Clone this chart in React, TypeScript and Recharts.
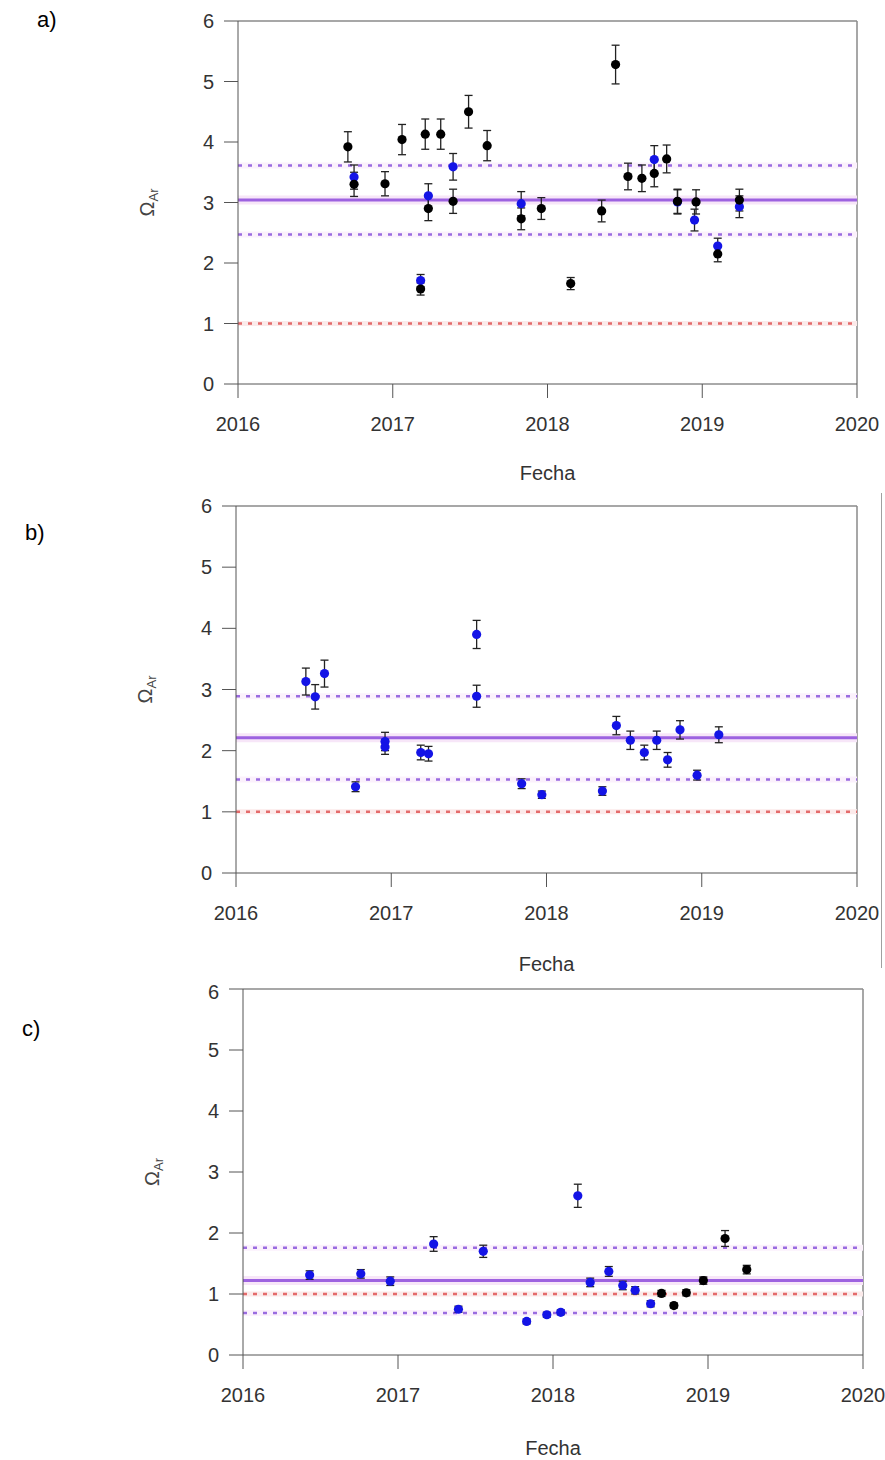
import { ScatterChart, Scatter, XAxis, YAxis, ErrorBar, ReferenceLine } from 'recharts';

// panel a) - two series (black / blue)
const aBlackDates = [2016.71, 2016.75, 2016.95, 2017.06, 2017.18, 2017.21, 2017.23, 2017.31, 2017.39, 2017.49, 2017.61, 2017.83, 2017.96, 2018.15, 2018.35, 2018.44, 2018.52, 2018.61, 2018.69, 2018.77, 2018.84, 2018.96, 2019.10, 2019.24];
const aBlackValues = [3.92, 3.30, 3.31, 4.04, 1.57, 4.13, 2.90, 4.13, 3.02, 4.50, 3.94, 2.73, 2.90, 1.66, 2.86, 5.28, 3.43, 3.40, 3.48, 3.72, 3.02, 3.01, 2.15, 3.04];
const aBlackErr = [0.25, 0.2, 0.2, 0.25, 0.1, 0.25, 0.2, 0.25, 0.2, 0.27, 0.25, 0.18, 0.18, 0.1, 0.18, 0.32, 0.22, 0.22, 0.22, 0.23, 0.2, 0.2, 0.13, 0.18];
const aBlueDates = [2016.75, 2017.18, 2017.23, 2017.39, 2017.83, 2018.69, 2018.84, 2018.95, 2019.10, 2019.24];
const aBlueValues = [3.42, 1.71, 3.11, 3.59, 2.98, 3.71, 3.01, 2.71, 2.28, 2.93];
const aBlueErr = [0.2, 0.1, 0.2, 0.22, 0.2, 0.23, 0.2, 0.18, 0.13, 0.18];
const aLines = [3.04, 3.61, 2.47]; // mean, upper, lower

// panel b) - blue only
const bBlueDates = [2016.45, 2016.51, 2016.57, 2016.77, 2016.96, 2016.96, 2017.19, 2017.24, 2017.55, 2017.55, 2017.84, 2017.97, 2018.36, 2018.45, 2018.54, 2018.63, 2018.71, 2018.78, 2018.86, 2018.97, 2019.11];
const bBlueValues = [3.13, 2.88, 3.26, 1.41, 2.15, 2.06, 1.97, 1.95, 3.90, 2.89, 1.46, 1.28, 1.34, 2.41, 2.17, 1.97, 2.17, 1.85, 2.34, 1.60, 2.26];
const bBlueErr = [0.22, 0.2, 0.22, 0.08, 0.15, 0.12, 0.12, 0.12, 0.23, 0.18, 0.08, 0.06, 0.07, 0.15, 0.15, 0.12, 0.15, 0.12, 0.15, 0.08, 0.13];
const bLines = [2.21, 2.89, 1.53];

// panel c)
const cBlueDates = [2016.43, 2016.76, 2016.95, 2017.23, 2017.39, 2017.55, 2017.83, 2017.96, 2018.05, 2018.16, 2018.24, 2018.36, 2018.45, 2018.53, 2018.63];
const cBlueValues = [1.31, 1.33, 1.21, 1.82, 0.75, 1.70, 0.55, 0.66, 0.70, 2.61, 1.19, 1.37, 1.14, 1.06, 0.84];
const cBlueErr = [0.07, 0.07, 0.07, 0.12, 0.05, 0.1, 0.04, 0.04, 0.04, 0.19, 0.07, 0.08, 0.07, 0.06, 0.05];
const cBlackDates = [2018.70, 2018.78, 2018.86, 2018.97, 2019.11, 2019.25];
const cBlackValues = [1.01, 0.81, 1.02, 1.22, 1.91, 1.40];
const cBlackErr = [0.05, 0.04, 0.05, 0.06, 0.13, 0.07];
const cLines = [1.22, 1.76, 0.69];

const years = [2016, 2017, 2018, 2019, 2020];
const omegaTicks = [0, 1, 2, 3, 4, 5, 6];
const saturation = 1;

const FONT = '"Liberation Sans", Arial, sans-serif';

const zip = (dates: number[], values: number[], errs: number[]) =>
  dates.map((d, i) => ({ x: d, y: values[i], err: errs[i] }));

const dot = (color: string) => (props: any) =>
  <circle cx={props.cx} cy={props.cy} r={4.6} fill={color} />;

function OmegaLabel(props: any) {
  const vb = props.viewBox || { x: 0, y: 0, width: 0, height: 0 };
  const cx = vb.x + vb.width - 90;
  const cy = vb.y + vb.height / 2;
  return (
    <text x={cx} y={cy + 6} transform={`rotate(-90 ${cx} ${cy})`} textAnchor="middle"
      fontFamily={FONT} fontSize={20} fill="#444">
      Ω<tspan fontSize={13} dy={4}>Ar</tspan>
    </text>
  );
}

interface PanelProps {
  top: number;
  height: number;
  plotTop: number;
  left: number;
  right: number;
  axisHeight: number;
  fechaOffset: number;
  lines: number[];
  blue: { x: number; y: number; err: number }[];
  black: { x: number; y: number; err: number }[];
}

function Panel({ top, height, plotTop, left, right, axisHeight, fechaOffset, lines, blue, black }: PanelProps) {
  const [mean, upper, lower] = lines;
  return (
    <div style={{ position: 'absolute', top, left: 0 }}>
      <ScatterChart width={885} height={height} margin={{ top: plotTop, right, bottom: 0, left: 0 }}>
        <XAxis type="number" dataKey="x" domain={[2016, 2020]} ticks={years} height={axisHeight}
          tickSize={14} tickMargin={19} stroke="#555" allowDataOverflow
          tick={{ fill: '#333', fontSize: 20, fontFamily: FONT }}
          label={{ value: 'Fecha', position: 'insideBottom', offset: fechaOffset, fill: '#333', fontSize: 20, fontFamily: FONT }} />
        <YAxis type="number" dataKey="y" domain={[0, 6]} ticks={omegaTicks} width={left}
          tickSize={14} tickMargin={10} stroke="#555"
          tick={{ fill: '#333', fontSize: 20, fontFamily: FONT }}
          label={<OmegaLabel />} />
        <ReferenceLine y={6} stroke="#8a8a8a" strokeWidth={1.5} />
        <ReferenceLine x={2020} stroke="#8a8a8a" strokeWidth={1.5} />
        <ReferenceLine y={saturation} stroke="#fbeaea" strokeWidth={5} />
        <ReferenceLine y={saturation} stroke="#e46a6a" strokeWidth={2.5} strokeDasharray="4 6" />
        <ReferenceLine y={upper} stroke="#fbf1fc" strokeWidth={6} />
        <ReferenceLine y={upper} stroke="#9a6be0" strokeWidth={2.5} strokeDasharray="4 6" />
        <ReferenceLine y={lower} stroke="#fbf1fc" strokeWidth={6} />
        <ReferenceLine y={lower} stroke="#9a6be0" strokeWidth={2.5} strokeDasharray="4 6" />
        <ReferenceLine y={mean} stroke="#f7e6f8" strokeWidth={9} />
        <ReferenceLine y={mean} stroke="#9d62e0" strokeWidth={3} />
        {blue.length > 0 && (
          <Scatter data={blue} fill="#1414e6" shape={dot('#1414e6')} isAnimationActive={false}>
            <ErrorBar dataKey="err" direction="y" width={4} stroke="#222" strokeWidth={1.3} />
          </Scatter>
        )}
        {black.length > 0 && (
          <Scatter data={black} fill="#000" shape={dot('#000')} isAnimationActive={false}>
            <ErrorBar dataKey="err" direction="y" width={4} stroke="#222" strokeWidth={1.3} />
          </Scatter>
        )}
      </ScatterChart>
    </div>
  );
}

const tagStyle = { position: 'absolute' as const, fontFamily: FONT, fontSize: 22, color: '#000' };

export default function App() {
  return (
    <div style={{ position: 'absolute', top: 0, left: 0, width: 885, height: 1460, background: '#fff', overflow: 'hidden' }}>
      <div style={{ ...tagStyle, left: 37, top: 7 }}>a)</div>
      <div style={{ ...tagStyle, left: 25, top: 520 }}>b)</div>
      <div style={{ ...tagStyle, left: 22, top: 1016 }}>c)</div>
      <Panel top={0} height={490} plotTop={21} left={238} right={28} axisHeight={106} fechaOffset={10}
        lines={aLines} blue={zip(aBlueDates, aBlueValues, aBlueErr)} black={zip(aBlackDates, aBlackValues, aBlackErr)} />
      <Panel top={490} height={490} plotTop={16} left={236} right={28} axisHeight={107} fechaOffset={9}
        lines={bLines} blue={zip(bBlueDates, bBlueValues, bBlueErr)} black={[]} />
      <Panel top={980} height={480} plotTop={9} left={243} right={22} axisHeight={105} fechaOffset={5}
        lines={cLines} blue={zip(cBlueDates, cBlueValues, cBlueErr)} black={zip(cBlackDates, cBlackValues, cBlackErr)} />
      <div style={{ position: 'absolute', left: 881, top: 493, width: 1, height: 475, background: '#a0a0a0' }} />
    </div>
  );
}
